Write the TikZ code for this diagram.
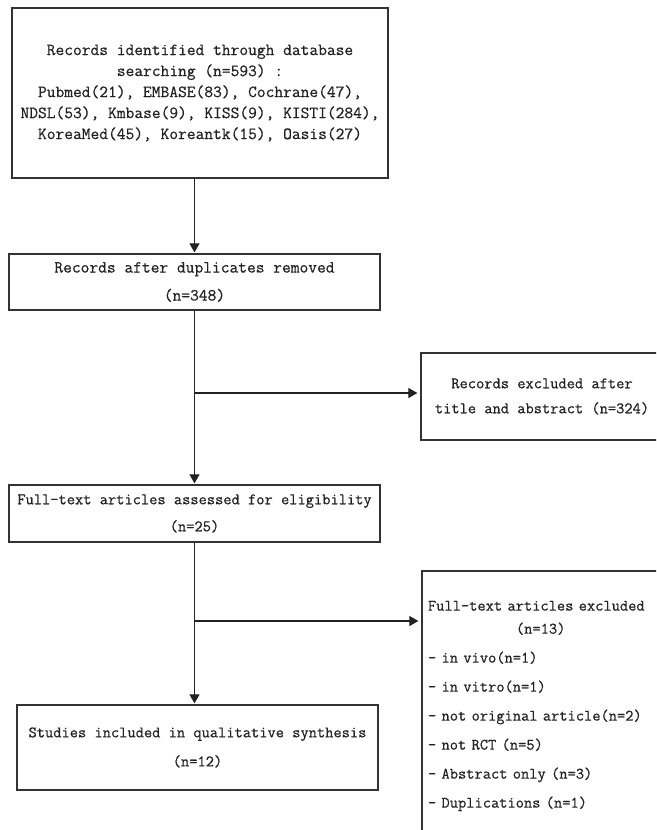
\documentclass[tikz,border=0pt]{standalone}
\usepackage{fontspec}
\newfontfamily\boxfont{Latin Modern Mono}[FakeBold=0.6]
\usetikzlibrary{arrows.meta}
\definecolor{ink}{HTML}{222222}
\definecolor{rulecol}{HTML}{333333}

\begin{document}
\begin{tikzpicture}[x=1pt,y=-1pt,
      box/.style={draw=rulecol,line width=1.3pt,text=ink,align=center,
                  font=\boxfont\fontsize{16}{28}\selectfont,inner sep=0pt},
      listbox/.style={box,align=left,text width=230pt,
                  font=\boxfont\fontsize{16}{29}\selectfont,
                  minimum width=242pt,minimum height=270pt},
      arr/.style={-{Triangle[length=9pt,width=10pt]},draw=ink,line width=1.2pt,
                  shorten >=1pt}]

    \useasboundingbox (0,0) rectangle (656,830);
    \clip (0,0) rectangle (656,830);

    % main column
    \node[box,minimum width=376pt,minimum height=170pt,
          font=\boxfont\fontsize{17}{21}\selectfont] (srch) at (200,93)
      {Records identified through database\\searching (n=593) :\\
       Pubmed(21), EMBASE(83), Cochrane(47),\\
       NDSL(53), Kmbase(9), KISS(9), KISTI(284),\\
       KoreaMed(45), Koreantk(15), Oasis(27)};
    \node[box,minimum width=371pt,minimum height=56pt,
          font=\boxfont\fontsize{17}{28}\selectfont] (dedup) at (194.5,282)
      {Records after duplicates removed\\(n=348)};
    \node[box,minimum width=371pt,minimum height=57pt,
          font=\boxfont\fontsize{16}{27}\selectfont] (elig) at (194.5,513.5)
      {Full-text articles assessed for eligibility\\(n=25)};
    \node[box,minimum width=361pt,minimum height=85pt,
          font=\boxfont\fontsize{16}{29}\selectfont] (incl) at (197.5,747.5)
      {Studies included in qualitative synthesis\\(n=12)};

    % exclusions
    \node[box,minimum width=242pt,minimum height=87pt,
          font=\boxfont\fontsize{16}{25}\selectfont] (rexcl) at (542,396.5)
      {Records excluded after\\title and abstract (n=324)};
    \node[listbox] (fexcl) at (543,706)
      {Full-text articles excluded\\[-6pt]
       \hspace*{5.5em}(n=13)\\
       - in vivo(n=1)\\
       - in vitro(n=1)\\
       - not original article(n=2)\\
       - not RCT (n=5)\\
       - Abstract only (n=3)\\
       - Duplications (n=1)};

    \coordinate (br1) at (194.5,393);
    \coordinate (br2) at (194.5,621);

    \draw[arr] (dedup.north |- srch.south) -- (dedup.north);
    \draw[arr] (dedup.south) -- (elig.north);
    \draw[arr] (elig.south) -- (elig.south |- incl.north);
    \draw[arr,shorten >=3pt] (br1) -- (br1 -| rexcl.west);
    \draw[arr,shorten >=3pt] (br2) -- (br2 -| fexcl.west);
  \end{tikzpicture}
\end{document}
